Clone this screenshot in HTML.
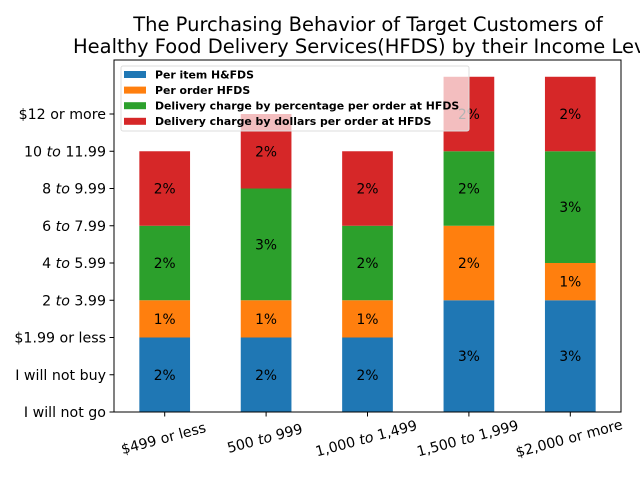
<!DOCTYPE html>
<html><head><meta charset="utf-8">
<style>
html,body{margin:0;padding:0;background:#fff;}
svg{display:block;font-family:"DejaVu Sans","Liberation Sans",sans-serif;}
</style></head>
<body>
<svg id="chart" width="640" height="480" viewBox="0 0 640 480" xmlns="http://www.w3.org/2000/svg">
<rect width="640" height="480" fill="#fff"/>
<text x="368" y="31" font-size="19.5" text-anchor="middle" fill="#000">The Purchasing Behavior of Target Customers of</text>
<text x="368" y="53" font-size="19.5" text-anchor="middle" fill="#000">Healthy Food Delivery Services(HFDS) by their Income Level</text>
<g id="plot"></g>
</svg>
<script>
const categories = ["$499 or less", "500 to 999", "1,000 to 1,499", "1,500 to 1,999", "$2,000 or more"];
const perItem = [2, 2, 2, 3, 3];
const perOrder = [1, 1, 1, 2, 1];
const deliveryPct = [2, 3, 2, 2, 3];
const deliveryDollar = [2, 2, 2, 2, 2];
const seriesNames = ["Per item H&FDS", "Per order HFDS", "Delivery charge by percentage per order at HFDS", "Delivery charge by dollars per order at HFDS"];
const yTickLabels = ["I will not go", "I will not buy", "$1.99 or less", "2 to 3.99", "4 to 5.99", "6 to 7.99", "8 to 9.99", "10 to 11.99", "$12 or more"];

const NS = "http://www.w3.org/2000/svg";
const colors = ["#1f77b4", "#ff7f0e", "#2ca02c", "#d62728"];
const series = [perItem, perOrder, deliveryPct, deliveryDollar];
const L = 114, R = 621, T = 60, B = 412;
let maxTotal = 0;
for (let i = 0; i < categories.length; i++) {
  let s = 0; series.forEach(a => s += a[i]); maxTotal = Math.max(maxTotal, s);
}
const yMax = Math.max(maxTotal * 1.05, yTickLabels.length - 1);
const x = v => L + (v + 0.5) / categories.length * (R - L);
const y = v => B - v / yMax * (B - T);
const plot = document.getElementById('plot');
function mk(tag, attrs, parent) {
  const e = document.createElementNS(NS, tag);
  for (const k in attrs) e.setAttribute(k, attrs[k]);
  (parent || plot).appendChild(e);
  return e;
}
for (let i = 0; i < categories.length; i++) {
  let base = 0;
  series.forEach((arr, si) => {
    const v = arr[i];
    const r = mk('rect', {x: x(i - 0.25), y: y(base + v), width: x(i + 0.25) - x(i - 0.25), height: y(base) - y(base + v), fill: colors[si]});
    
    
    const t = mk('text', {x: x(i), y: y(base + v / 2) + 5, 'font-size': '13.8', 'text-anchor': 'middle', fill: '#000'});
    t.textContent = v + '%';
    
    
    base += v;
  });
}
yTickLabels.forEach((lab, k) => {
  const yy = y(k);
  const tk = mk('line', {x1: L - 4.5, x2: L, y1: yy, y2: yy, stroke: '#000', 'stroke-width': 1});
  
  
  const t = mk('text', {x: L - 8, y: yy + 5, 'font-size': '14.2', 'text-anchor': 'end', fill: '#000'});
  
  
  const m = lab.match(/^(.*) to (.*)$/);
  if (m) {
    t.appendChild(document.createTextNode(m[1] + ' '));
    const it = document.createElementNS(NS, 'tspan'); it.setAttribute('font-style', 'italic'); it.textContent = 'to'; t.appendChild(it);
    t.appendChild(document.createTextNode(' ' + m[2]));
  } else t.textContent = lab;
});
categories.forEach((lab, i) => {
  const xx = x(i);
  const tk = mk('line', {x1: xx, x2: xx, y1: B, y2: B + 4.5, stroke: '#000', 'stroke-width': 1});
  
  
  const t = mk('text', {x: 0, y: 0, 'font-size': '14.2', 'text-anchor': 'middle', fill: '#000', transform: 'translate(' + xx + ',' + (B + 31) + ') rotate(-15)'});
  
  
  const m = lab.match(/^(.*) to (.*)$/);
  if (m) {
    t.appendChild(document.createTextNode(m[1] + ' '));
    const it = document.createElementNS(NS, 'tspan'); it.setAttribute('font-style', 'italic'); it.textContent = 'to'; t.appendChild(it);
    t.appendChild(document.createTextNode(' ' + m[2]));
  } else t.textContent = lab;
});
const fr = mk('rect', {x: L, y: T, width: R - L, height: B - T, fill: 'none', stroke: '#000', 'stroke-width': 1});


const lg = mk('g', {});


const lb = mk('rect', {x: 121, y: 66, width: 348, height: 65, rx: 2, fill: '#fff', 'fill-opacity': 0.7, stroke: '#ddd', 'stroke-width': 1}, lg);


seriesNames.forEach((n, si) => {
  const yy = 74.5 + si * 15.6;
  const sw = mk('rect', {x: 124, y: yy - 3.5, width: 22, height: 7, fill: colors[si]}, lg);
  
  
  const t = mk('text', {x: 155, y: yy + 3.8, 'font-size': '10.9', 'font-weight': 'bold', fill: '#000'}, lg);
  t.textContent = n;
  
  
});
</script>
</body></html>
